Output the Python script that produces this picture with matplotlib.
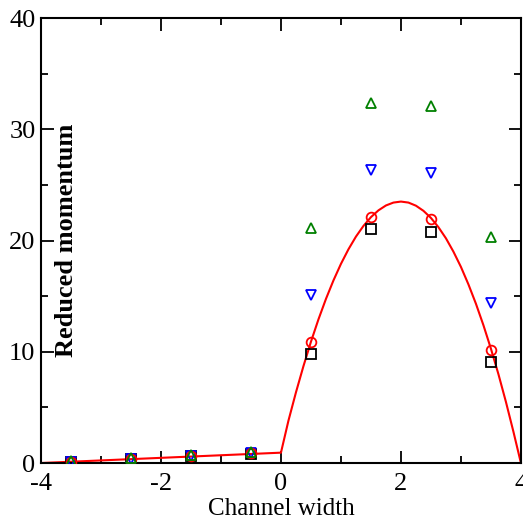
import matplotlib
matplotlib.use("Agg")
import matplotlib.pyplot as plt
from matplotlib.ticker import MultipleLocator

# channel width positions of the samples
x_pts = [-3.5, -2.5, -1.5, -0.5, 0.5, 1.5, 2.5, 3.5]

# reduced momentum, one list per series
squares = [0.10, 0.35, 0.60, 0.85, 9.8, 21.0, 20.8, 9.1]
circles = [0.12, 0.40, 0.65, 0.90, 10.9, 22.1, 21.9, 10.2]
up_tri = [0.15, 0.45, 0.70, 0.95, 21.1, 32.4, 32.1, 20.3]
down_tri = [0.10, 0.40, 0.65, 0.90, 15.1, 26.3, 26.1, 14.4]

# fitted curve
curve_x = [-4.0, 0.0, 0.125, 0.25, 0.375, 0.5, 0.625, 0.75, 0.875, 1.0,
           1.125, 1.25, 1.375, 1.5, 1.625, 1.75, 1.875, 2.0,
           2.125, 2.25, 2.375, 2.5, 2.625, 2.75, 2.875, 3.0,
           3.125, 3.25, 3.375, 3.5, 3.625, 3.75, 3.875, 4.0]
curve_y = [0.0, 0.93, 3.81, 6.35, 8.71, 10.9, 12.91, 14.75, 16.41, 17.9,
           19.21, 20.35, 21.31, 22.1, 22.71, 23.15, 23.41, 23.5,
           23.41, 23.13, 22.67, 22.03, 21.2, 20.2, 19.0, 17.63,
           16.06, 14.32, 12.39, 10.28, 7.99, 5.5, 2.82, 0.0]

plt.rcParams['font.family'] = ['Liberation Serif', 'DejaVu Serif']
plt.rcParams['axes.unicode_minus'] = False

fig = plt.figure(figsize=(5.23, 5.22), dpi=100)
ax = fig.add_axes([0.0784, 0.113, 0.9176, 0.8525])

ax.plot(curve_x, curve_y, color='red', lw=1.5, zorder=2)

mk = dict(ls='none', markersize=7, markerfacecolor='none', markeredgewidth=1.3, zorder=3)
ax.plot(x_pts, squares, marker='s', markeredgecolor='black', **mk)
ax.plot(x_pts, down_tri, marker='v', markeredgecolor='blue', **mk)
ax.plot(x_pts, circles, marker='o', markeredgecolor='red', **mk)
ax.plot(x_pts, up_tri, marker='^', markeredgecolor='green', **mk)

ax.set_xlim(-4, 4)
ax.set_ylim(0, 40)
ax.xaxis.set_major_locator(MultipleLocator(2))
ax.xaxis.set_minor_locator(MultipleLocator(1))
ax.yaxis.set_major_locator(MultipleLocator(10))
ax.yaxis.set_minor_locator(MultipleLocator(5))
ax.tick_params(which='both', direction='in', top=True, right=True, width=1.3, labelsize=19)
ax.tick_params(axis='x', pad=7)
ax.tick_params(axis='y', pad=4)
ax.tick_params(which='major', length=9)
ax.tick_params(which='minor', length=5)
for s in ax.spines.values():
    s.set_linewidth(1.5)

ax.set_xlabel('Channel width', fontsize=18, labelpad=2)
ax.text(0.054, 0.5, 'Reduced momentum', transform=ax.transAxes, rotation=90,
        ha='center', va='center', fontsize=19, fontweight='bold')

fig.savefig('out.png', dpi=100)
